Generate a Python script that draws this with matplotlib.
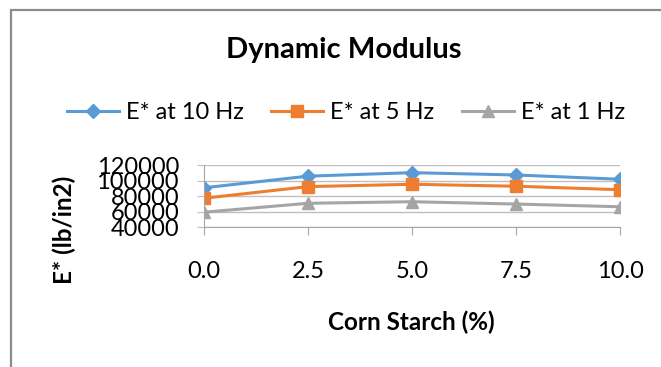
import matplotlib.pyplot as plt
from matplotlib.patches import Rectangle

plt.rcParams['font.family'] = ['Lato', 'DejaVu Sans']

corn_starch = [0.0, 2.5, 5.0, 7.5, 10.0]
e_10hz = [91000, 106000, 110500, 107500, 102000]
e_5hz = [77500, 92500, 95500, 93000, 88500]
e_1hz = [59500, 71000, 73000, 70000, 66500]
y_ticks = [40000, 60000, 80000, 100000, 120000]
x_labels = ["0.0", "2.5", "5.0", "7.5", "10.0"]

fig = plt.figure(figsize=(6.61, 3.67), dpi=100)
ax = fig.add_axes([204/661, 1 - 227.3/367, 416/661, 62/367])

# chart border
fig.patches.append(Rectangle((11/661, -0.1), 1.2, 1 - 10/367 + 0.1,
                             transform=fig.transFigure, fill=False,
                             edgecolor="#8c8c8c", lw=1.6))

ax.plot(corn_starch, e_10hz, color="#5B9BD5", lw=2.2, marker="D", ms=7, label="E* at 10 Hz")
ax.plot(corn_starch, e_5hz, color="#ED7D31", lw=2.2, marker="s", ms=8, label="E* at 5 Hz")
ax.plot(corn_starch, e_1hz, color="#A5A5A5", lw=2.2, marker="^", ms=9, label="E* at 1 Hz")

ax.set_xlim(0, 10)
ax.set_ylim(40000, 120000)
ax.set_yticks(y_ticks)
ax.set_xticks(corn_starch)
ax.set_xticklabels(x_labels)
ax.grid(axis="y", color="#bfbfbf", lw=1)
ax.set_axisbelow(True)
for s in ["top", "right"]:
    ax.spines[s].set_visible(False)
for s in ["left", "bottom"]:
    ax.spines[s].set_color("#a6a6a6")
ax.tick_params(axis="y", length=5, color="#bfbfbf", pad=13, labelsize=17)
ax.tick_params(axis="x", length=6, color="#a6a6a6", pad=18, labelsize=17)

fig.text(343.5/661, 1 - 57.7/367, "Dynamic Modulus", ha="center", va="baseline",
         fontsize=21, fontweight="bold")
fig.text(64/661, 1 - 230/367, "E* (lb/in2)", ha="center", va="center", rotation=90,
         fontsize=17.5, fontweight="bold")
fig.text(411/661, 1 - 322/367, "Corn Starch (%)", ha="center", va="center",
         fontsize=17.5, fontweight="bold")

fig.legend(loc="center", bbox_to_anchor=(346/661, 1 - 112.7/367), ncol=3, frameon=False,
           fontsize=17, handlelength=2.2, handletextpad=0.3, columnspacing=1.15,
           borderpad=0, borderaxespad=0)

fig.savefig("out.png", dpi=100)
